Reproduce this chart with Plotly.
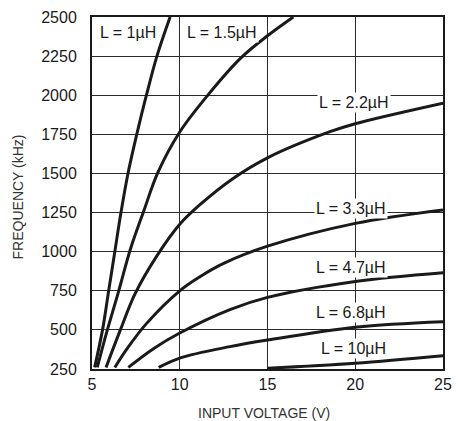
import plotly.graph_objects as go

# Inductance curves: input voltage (V) vs switching frequency (kHz)
inductors = ["1µH", "1.5µH", "2.2µH", "3.3µH", "4.7µH", "6.8µH", "10µH"]

v_1 = [5.15, 5.6, 5.95, 6.3, 6.65, 7.05, 7.55, 8.1, 8.7, 9.45]
f_1 = [260, 500, 750, 1000, 1250, 1500, 1750, 2000, 2250, 2500]

v_15 = [5.3, 5.85, 6.5, 7.2, 7.95, 8.75, 10.0, 11.67, 13.5, 15.0, 16.47]
f_15 = [260, 490, 740, 1020, 1260, 1505, 1765, 2010, 2240, 2380, 2500]

v_22 = [5.8, 6.6, 7.45, 8.68, 10.0, 11.15, 13.0, 15.0, 18.56, 20.0, 25.0]
f_22 = [260, 495, 730, 970, 1175, 1300, 1465, 1600, 1767, 1818, 1949]

v_33 = [6.3, 7.0, 8.1, 10.0, 11.15, 12.5, 15.0, 20.0, 25.0]
f_33 = [260, 380, 540, 750, 840, 925, 1035, 1181, 1267]

v_47 = [7.07, 8.5, 10.0, 12.86, 15.0, 20.0, 25.0]
f_47 = [260, 380, 480, 630, 708, 810, 866]

v_68 = [8.8, 10.0, 12.86, 15.0, 20.0, 25.0]
f_68 = [260, 320, 393, 435, 517, 552]

v_10 = [15.0, 20.0, 25.0]
f_10 = [255, 287, 335]

x_ticks = [5, 10, 15, 20, 25]
y_ticks = [250, 500, 750, 1000, 1250, 1500, 1750, 2000, 2250, 2500]

# label positions (data coords)
label_x = [7.05, 12.4, 19.9, 19.76, 19.76, 19.76, 19.9]
label_y = [2398, 2398, 1951, 1279, 896, 608, 384]

series = [(v_1, f_1), (v_15, f_15), (v_22, f_22), (v_33, f_33),
          (v_47, f_47), (v_68, f_68), (v_10, f_10)]

FONT = "Liberation Sans, Arial, sans-serif"
INK = "#1a1a1a"

fig = go.Figure()
for (vx, fy), name in zip(series, inductors):
    fig.add_trace(go.Scatter(x=vx, y=fy, mode="lines", name=name,
                             line=dict(color=INK, width=3, shape="spline", smoothing=1.0),
                             showlegend=False, hoverinfo="skip"))

for name, lx, ly in zip(inductors, label_x, label_y):
    fig.add_annotation(x=lx, y=ly, text="L = " + name, showarrow=False,
                       font=dict(family=FONT, size=16, color=INK),
                       bgcolor="white", borderpad=1, xanchor="center", yanchor="middle")

# axis titles
fig.add_annotation(x=0.49, y=-0.124, xref="paper", yref="paper",
                   text="INPUT VOLTAGE (V)", showarrow=False,
                   font=dict(family=FONT, size=14, color="#333333"),
                   xanchor="center", yanchor="middle")
fig.add_annotation(x=-0.211, y=0.49, xref="paper", yref="paper",
                   text="FREQUENCY (kHz)", showarrow=False, textangle=-90,
                   font=dict(family=FONT, size=14, color="#333333"),
                   xanchor="center", yanchor="middle")

fig.update_layout(
    width=453, height=413,
    margin=dict(l=84, r=18, t=9, b=52),
    paper_bgcolor="white", plot_bgcolor="white",
    font=dict(family=FONT, size=16, color=INK),
)
fig.update_xaxes(range=[5, 25], tickvals=x_ticks, ticks="", showgrid=True,
                 gridcolor="#2a2a2a", gridwidth=1, zeroline=False, automargin=False,
                 showline=True, linecolor=INK, linewidth=2, mirror=True,
                 tickfont=dict(family=FONT, size=16, color=INK))
fig.update_yaxes(range=[250, 2500], tickvals=y_ticks, ticks="", showgrid=True,
                 gridcolor="#2a2a2a", gridwidth=1, zeroline=False, automargin=False,
                 showline=True, linecolor=INK, linewidth=2, mirror=True,
                 ticklabelstandoff=10,
                 tickfont=dict(family=FONT, size=16, color=INK))

fig.write_html("out.html")
